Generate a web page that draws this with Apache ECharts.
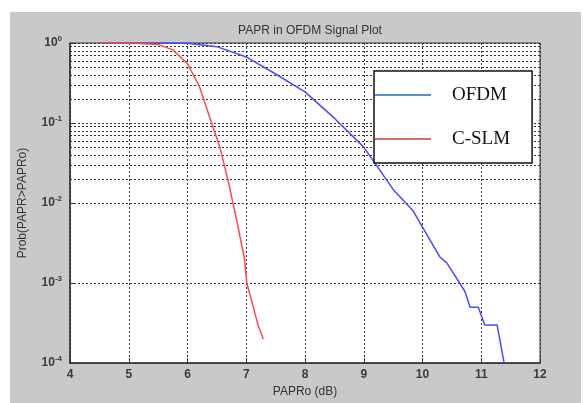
<!DOCTYPE html>
<html>
<head>
<meta charset="utf-8">
<script src="https://cdn.jsdelivr.net/npm/echarts@6/dist/echarts.min.js"></script>
<style>
    html, body { margin: 0; padding: 0; background: #fff; }
    #papr-chart { width: 583px; height: 403px; }
</style>
</head>
<body>
<div id="papr-chart"></div>
<script>
    // OFDM curve (blue)
    var ofdmX = [4.5, 5.0, 5.5, 6.0, 6.5, 7.0, 7.5, 8.0, 8.5, 9.0, 9.5, 9.84, 10.0, 10.3, 10.41, 10.64, 10.72, 10.81, 10.95, 11.06, 11.27, 11.39];
    var ofdmY = [1, 1, 0.999, 0.99, 0.9, 0.67, 0.41, 0.245, 0.115, 0.05, 0.0148, 0.008, 0.005, 0.0021, 0.0018, 0.00098, 0.00079, 0.0005, 0.0005, 0.0003, 0.0003, 0.0001];
    // C-SLM curve (red)
    var cslmX = [4.5, 5.0, 5.5, 5.75, 6.0, 6.2, 6.4, 6.55, 6.7, 6.75, 6.85, 6.97, 7.01, 7.12, 7.2, 7.29];
    var cslmY = [1, 1, 0.96, 0.82, 0.55, 0.29, 0.105, 0.05, 0.018, 0.012, 0.0055, 0.002, 0.001, 0.0005, 0.0003, 0.0002];

    var yDecades = [1e-4, 1e-3, 1e-2, 1e-1, 1];

    function pairs(xs, ys) {
        var out = [];
        for (var i = 0; i < xs.length; i++) out.push([xs[i], ys[i]]);
        return out;
    }

    // minor grid lines at 2..9 x 10^k
    var minorLines = [];
    for (var k = 0; k < yDecades.length - 1; k++) {
        for (var m = 2; m <= 9; m++) {
            minorLines.push({ yAxis: m * yDecades[k] });
        }
    }

    var chart = echarts.init(document.getElementById('papr-chart'));
    var gridLine = { type: [2, 2], color: '#333', width: 1 };
    var labelFont = { fontFamily: 'Liberation Sans, Arial', fontSize: 12, color: '#3a3a3a', fontWeight: 'bold' };

    var option = {
        backgroundColor: '#fff',
        animation: false,
        graphic: [{
            type: 'rect', z: -10, silent: true,
            shape: { x: 10, y: 12, width: 571, height: 391 },
            style: { fill: '#c9c9c9' }
        }],
        title: {
            text: 'PAPR in OFDM Signal Plot',
            left: 305, top: 20, textAlign: 'center',
            textStyle: { fontFamily: 'Liberation Sans, Arial', fontSize: 12, fontWeight: 'normal', color: '#333' }
        },
        legend: {
            left: 374, top: 71,
            orient: 'vertical',
            backgroundColor: '#fff',
            borderColor: '#111', borderWidth: 1.5,
            padding: [12, 22, 12, 1],
            icon: 'rect',
            itemWidth: 56, itemHeight: 2, itemGap: 20,
            textStyle: { fontFamily: 'Liberation Serif, DejaVu Serif', fontSize: 19, color: '#111', lineHeight: 24, padding: [0, 0, 0, 16] },
            data: [
                { name: 'OFDM', itemStyle: { color: '#5b8fd0' } },
                { name: 'C-SLM', itemStyle: { color: '#d86a6a' } }
            ]
        },
        grid: {
            left: 70, right: 43, top: 43, bottom: 31,
            show: true, backgroundColor: '#fff', borderColor: '#333', borderWidth: 1
        },
        xAxis: {
            type: 'value', min: 4, max: 12, interval: 1,
            name: 'PAPRo (dB)', nameLocation: 'middle', nameGap: 19,
            nameTextStyle: { fontFamily: 'Liberation Sans, Arial', fontSize: 12, color: '#333' },
            axisLine: { lineStyle: { color: '#333', width: 1.5 } },
            axisTick: { inside: true, length: 5, lineStyle: { color: '#333' } },
            axisLabel: Object.assign({ margin: 6 }, labelFont),
            splitLine: { show: true, lineStyle: gridLine }
        },
        yAxis: {
            type: 'log', logBase: 10, min: 1e-4, max: 1,
            name: 'Prob(PAPR>PAPRo)', nameLocation: 'middle', nameGap: 41,
            nameTextStyle: { fontFamily: 'Liberation Sans, Arial', fontSize: 12, color: '#333' },
            axisLine: { lineStyle: { color: '#333', width: 1.5 } },
            axisTick: { inside: true, length: 5, lineStyle: { color: '#333' } },
            axisLabel: {
                margin: 8,
                formatter: function (v) {
                    var e = Math.round(Math.log10(v));
                    return '{b|10}{s|' + e + '}';
                },
                rich: {
                    b: labelFont,
                    s: { fontFamily: 'Liberation Sans, Arial', fontSize: 8, color: '#3a3a3a', fontWeight: 'bold', verticalAlign: 'top', padding: [0, 0, 9, 0] }
                }
            },
            splitLine: { show: true, lineStyle: gridLine }
        },
        series: [
            {
                name: 'OFDM', type: 'line', symbol: 'none',
                lineStyle: { color: '#4a4aff', width: 1.5 },
                itemStyle: { color: '#4a4aff' },
                data: pairs(ofdmX, ofdmY),
                z: 3,
                markLine: {
                    silent: true, symbol: 'none', label: { show: false },
                    lineStyle: gridLine, z: 1,
                    data: minorLines
                }
            },
            {
                name: 'C-SLM', type: 'line', symbol: 'none',
                lineStyle: { color: '#ff4a4a', width: 1.5 },
                itemStyle: { color: '#ff4a4a' },
                data: pairs(cslmX, cslmY),
                z: 4
            }
        ]
    };
    chart.setOption(option);
</script>
</body>
</html>
